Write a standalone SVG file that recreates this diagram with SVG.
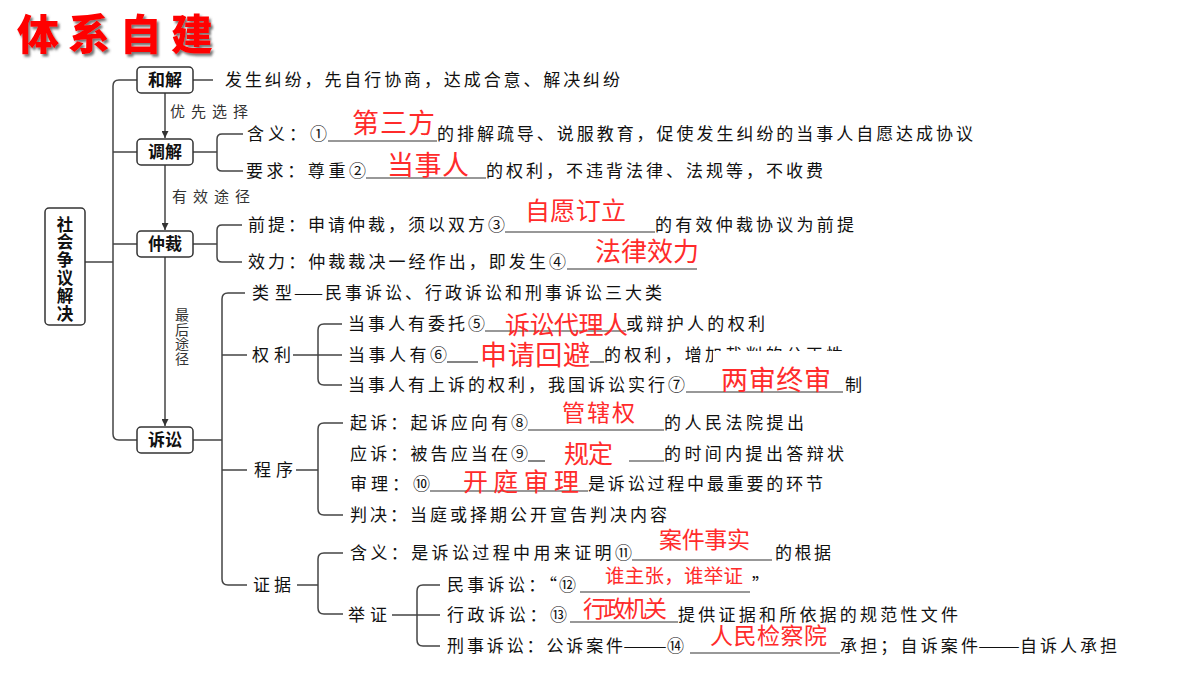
<svg xmlns="http://www.w3.org/2000/svg" width="1200" height="675" viewBox="0 0 1200 675">
<style>
text{font-family:'Noto Sans CJK SC','Noto Sans',sans-serif}
.t{font-size:17px;fill:#111}
.r{fill:#ff2b2b}
.lb{font-size:15px;fill:#333}
.lv{font-size:14px;fill:#333;writing-mode:vertical-rl;text-orientation:upright;letter-spacing:0.5px}
.bx{fill:#fff;stroke:#333;stroke-width:1.5}
.bt{font-size:17px;font-weight:bold;fill:#111;text-anchor:middle}
.rt{font-size:16.5px;font-weight:bold;fill:#111;writing-mode:vertical-rl;text-orientation:upright;letter-spacing:1.3px}
.ln{fill:none;stroke:#444;stroke-width:1.5}
.ul{fill:none;stroke:#333;stroke-width:1.2}
</style>
<defs>
<filter id="sh" x="-10%" y="-10%" width="130%" height="140%">
<feDropShadow dx="2" dy="2.5" stdDeviation="1" flood-color="#555" flood-opacity="0.8"/>
</filter>
<marker id="ah" viewBox="0 0 10 10" refX="10" refY="5" markerWidth="7" markerHeight="7" orient="auto" markerUnits="userSpaceOnUse">
<path d="M0,0 L10,5 L0,10 Z" fill="#333"/>
</marker>
<clipPath id="cut"><path d="M600,336 H870 V351 H713 V374 H600 Z"/></clipPath>
</defs>
<rect width="1200" height="675" fill="#fff"/>

<text id="title" x="17" y="50" textLength="196" lengthAdjust="spacing" style="font-size:42px;font-weight:900;fill:#ff0000" filter="url(#sh)">体系自建</text>

<g id="connectors">
<path class="ln" d="M85,262 H113 M137,80 H119 Q113,80 113,86 V434 Q113,440 119,440 H137 M113,152 H137 M113,244 H137"/>
<path class="ln" d="M193,80 H213"/>
<path class="ln" d="M193,152 H217 M243,134 H222 Q217,134 217,139 V166 Q217,171 222,171 H243"/>
<path class="ln" d="M193,244 H217 M242,225 H222 Q217,225 217,230 V257 Q217,262 222,262 H242"/>
<path class="ln" d="M193,440 H222 M245,293 H228 Q222,293 222,299 V579 Q222,585 228,585 H247 M222,355 H247 M222,470 H247"/>
<path class="ln" d="M293,355 H342 M342,324 H324 Q318,324 318,330 V379 Q318,385 324,385 H342"/>
<path class="ln" d="M296,470 H318 M343,423 H324 Q318,423 318,429 V509 Q318,515 324,515 H343"/>
<path class="ln" d="M297,585 H318 M343,553 H324 Q318,553 318,559 V608 Q318,614 324,614 H343"/>
<path class="ln" d="M392,615 H440 M440,585 H423 Q417,585 417,591 V640 Q417,646 423,646 H440"/>
<path class="ln" d="M165,93 V138" marker-end="url(#ah)"/>
<path class="ln" d="M165,165 V230" marker-end="url(#ah)"/>
<path class="ln" d="M165,257 V426" marker-end="url(#ah)"/>
<text class="lb" x="170" y="117" textLength="78" lengthAdjust="spacing">优先选择</text>
<text class="lb" x="172" y="202" textLength="78" lengthAdjust="spacing">有效途径</text>
<text class="lv" x="182" y="308">最后途径</text>
</g>

<g id="root">
<rect class="bx" x="45" y="208" width="40" height="117" rx="4"/>
<text class="rt" x="65" y="216">社会争议解决</text>
</g>

<g id="hejie">
<rect class="bx" x="137" y="67" width="56" height="26" rx="4"/>
<text class="bt" x="165" y="86">和解</text>
<text class="t" x="225" y="86" textLength="395" lengthAdjust="spacing">发生纠纷，先自行协商，达成合意、解决纠纷</text>
</g>

<g id="tiaojie">
<rect class="bx" x="137" y="139" width="56" height="26" rx="4"/>
<text class="bt" x="165" y="158">调解</text>
<text class="t" x="247" y="140" textLength="80" lengthAdjust="spacing">含义：①</text>
<line class="ul" x1="328" y1="141" x2="437" y2="141"/>
<text class="t" x="437" y="140" textLength="536" lengthAdjust="spacing">的排解疏导、说服教育，促使发生纠纷的当事人自愿达成协议</text>
<text class="t" x="246" y="177" textLength="120" lengthAdjust="spacing">要求：尊重②</text>
<line class="ul" x1="366" y1="178" x2="486" y2="178"/>
<text class="t" x="486" y="177" textLength="337" lengthAdjust="spacing">的权利，不违背法律、法规等，不收费</text>
<text class="r" x="352" y="133" style="font-size:27px" textLength="83" lengthAdjust="spacing">第三方</text>
<text class="r" x="387" y="174.5" style="font-size:27px" textLength="82" lengthAdjust="spacing">当事人</text>
</g>

<g id="zhongcai">
<rect class="bx" x="137" y="231" width="56" height="26" rx="4"/>
<text class="bt" x="165" y="250">仲裁</text>
<text class="t" x="248" y="231" textLength="257" lengthAdjust="spacing">前提：申请仲裁，须以双方③</text>
<line class="ul" x1="505" y1="232" x2="655" y2="232"/>
<text class="t" x="655" y="231" textLength="199" lengthAdjust="spacing">的有效仲裁协议为前提</text>
<text class="t" x="248" y="268" textLength="318" lengthAdjust="spacing">效力：仲裁裁决一经作出，即发生④</text>
<line class="ul" x1="567" y1="269" x2="697" y2="269"/>
<text class="r" x="525" y="220" style="font-size:25px" textLength="101" lengthAdjust="spacing">自愿订立</text>
<text class="r" x="595" y="260.5" style="font-size:26px" textLength="104" lengthAdjust="spacing">法律效力</text>
</g>

<g id="susong">
<rect class="bx" x="137" y="427" width="56" height="26" rx="4"/>
<text class="bt" x="165" y="446">诉讼</text>
</g>

<g id="leixing">
<text class="t" x="252" y="299" textLength="40" lengthAdjust="spacing">类型</text>
<text class="t" x="294" y="299" textLength="29" lengthAdjust="spacingAndGlyphs">——</text>
<text class="t" x="325" y="299" textLength="337" lengthAdjust="spacing">民事诉讼、行政诉讼和刑事诉讼三大类</text>
</g>

<g id="quanli">
<text class="t" x="252" y="361" textLength="39" lengthAdjust="spacing">权利</text>
<text class="t" x="348" y="330" textLength="137" lengthAdjust="spacing">当事人有委托⑤</text>
<line class="ul" x1="485" y1="331" x2="626" y2="331"/>
<text class="t" x="626" y="330" textLength="139" lengthAdjust="spacing">或辩护人的权利</text>
<text class="t" x="348" y="361" textLength="99" lengthAdjust="spacing">当事人有⑥</text>
<line class="ul" x1="447" y1="362" x2="478" y2="362"/>
<line class="ul" x1="590" y1="362" x2="604" y2="362"/>
<text class="t" x="604" y="361" textLength="239" lengthAdjust="spacing" clip-path="url(#cut)">的权利，增加裁判的公正性</text>
<text class="t" x="348" y="391" textLength="337" lengthAdjust="spacing">当事人有上诉的权利，我国诉讼实行⑦</text>
<line class="ul" x1="686" y1="392" x2="843" y2="392"/>
<text class="t" x="845" y="391" textLength="19" lengthAdjust="spacing">制</text>
<text class="r" x="505" y="333.5" style="font-size:25px" textLength="123" lengthAdjust="spacing">诉讼代理人</text>
<text class="r" x="480" y="365" style="font-size:27px" textLength="110" lengthAdjust="spacing">申请回避</text>
<text class="r" x="721" y="390" style="font-size:27px" textLength="110" lengthAdjust="spacing">两审终审</text>
</g>

<g id="chengxu">
<text class="t" x="254" y="476" textLength="39" lengthAdjust="spacing">程序</text>
<text class="t" x="350" y="429" textLength="178" lengthAdjust="spacing">起诉：起诉应向有⑧</text>
<line class="ul" x1="528" y1="430" x2="664" y2="430"/>
<text class="t" x="664" y="429" textLength="140" lengthAdjust="spacing">的人民法院提出</text>
<text class="t" x="350" y="460" textLength="178" lengthAdjust="spacing">应诉：被告应当在⑨</text>
<line class="ul" x1="528" y1="461" x2="545" y2="461"/>
<line class="ul" x1="629" y1="461" x2="664" y2="461"/>
<text class="t" x="664" y="460" textLength="180" lengthAdjust="spacing">的时间内提出答辩状</text>
<text class="t" x="350" y="490" textLength="80" lengthAdjust="spacing">审理：⑩</text>
<line class="ul" x1="430" y1="491" x2="588" y2="491"/>
<text class="t" x="588" y="490" textLength="235" lengthAdjust="spacing">是诉讼过程中最重要的环节</text>
<text class="t" x="350" y="521" textLength="317" lengthAdjust="spacing">判决：当庭或择期公开宣告判决内容</text>
<text class="r" x="562" y="421" style="font-size:23px" textLength="73" lengthAdjust="spacing">管辖权</text>
<text class="r" x="564" y="462.5" style="font-size:25px" textLength="49" lengthAdjust="spacing">规定</text>
<text class="r" x="463" y="491" style="font-size:25px" textLength="116" lengthAdjust="spacing">开庭审理</text>
</g>

<g id="zhengju">
<text class="t" x="253" y="591" textLength="38" lengthAdjust="spacing">证据</text>
<text class="t" x="350" y="559" textLength="282" lengthAdjust="spacing">含义：是诉讼过程中用来证明⑪</text>
<line class="ul" x1="632" y1="560" x2="772" y2="560"/>
<text class="t" x="775" y="559" textLength="56" lengthAdjust="spacing">的根据</text>
<text class="r" x="659" y="548" style="font-size:23px" textLength="91" lengthAdjust="spacing">案件事实</text>
</g>

<g id="juzheng">
<text class="t" x="348" y="621" textLength="39" lengthAdjust="spacing">举证</text>
<text class="t" x="447" y="591" textLength="110" lengthAdjust="spacing">民事诉讼：“</text>
<text class="t" x="559" y="591" textLength="21" lengthAdjust="spacing">⑫</text>
<line class="ul" x1="580" y1="592" x2="750" y2="592"/>
<text class="t" x="752" y="591">”</text>
<text class="t" x="447" y="621" textLength="120" lengthAdjust="spacing">行政诉讼：⑬</text>
<line class="ul" x1="570" y1="622" x2="678" y2="622"/>
<text class="t" x="678" y="621" textLength="280" lengthAdjust="spacing">提供证据和所依据的规范性文件</text>
<text class="t" x="447" y="652" textLength="176" lengthAdjust="spacing">刑事诉讼：公诉案件</text>
<text class="t" x="623" y="652" textLength="44" lengthAdjust="spacingAndGlyphs">——</text>
<text class="t" x="667" y="652" textLength="21" lengthAdjust="spacing">⑭</text>
<line class="ul" x1="690" y1="653" x2="840" y2="653"/>
<text class="t" x="840" y="652" textLength="138" lengthAdjust="spacing">承担；自诉案件</text>
<text class="t" x="978" y="652" textLength="42" lengthAdjust="spacingAndGlyphs">——</text>
<text class="t" x="1020" y="652" textLength="97" lengthAdjust="spacing">自诉人承担</text>
<text class="r" x="605" y="583" style="font-size:19.5px" textLength="138" lengthAdjust="spacing">谁主张，谁举证</text>
<text class="r" x="583" y="617" style="font-size:23px" textLength="84" lengthAdjust="spacing">行政机关</text>
<text class="r" x="710" y="644" style="font-size:23px" textLength="117" lengthAdjust="spacing">人民检察院</text>
</g>
</svg>
